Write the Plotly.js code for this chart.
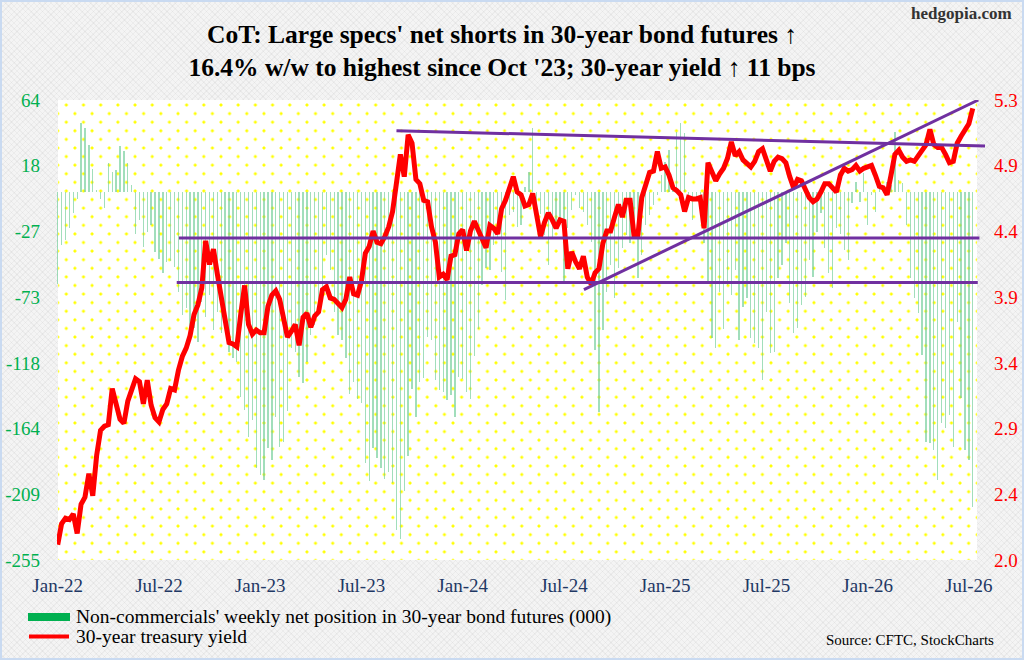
<!DOCTYPE html>
<html><head><meta charset="utf-8">
<script src="https://cdn.plot.ly/plotly-3.0.1.min.js"></script>
<style>
html,body{margin:0;padding:0;background:#fff;}
#wrap{position:relative;width:1024px;height:660px;overflow:hidden;background-color:#f4f4f4;
 background-image:repeating-linear-gradient(45deg, rgba(0,0,0,0.035) 0 1px, transparent 1px 4px),repeating-linear-gradient(-45deg, rgba(0,0,0,0.035) 0 1px, transparent 1px 4px);}
#dots{position:absolute;left:58px;top:100px;width:919px;height:460px;background-color:#fff;
 background-image:radial-gradient(circle, #ffff00 0, #ffff00 1.2px, rgba(255,255,0,0) 1.8px),radial-gradient(circle, #ffff00 0, #ffff00 1.2px, rgba(255,255,0,0) 1.8px);
 background-size:17.2px 17.2px,17.2px 17.2px;background-position:-0.3px -3.6px,8.3px 5px;}
#chart{position:absolute;left:0;top:0;width:1024px;height:660px;}
#frame{position:absolute;left:0;top:0;width:1024px;height:660px;box-sizing:border-box;border:2px solid #c9daf1;pointer-events:none;}
</style></head>
<body><div id="wrap"><div id="dots"></div><div id="chart"></div><div id="frame"></div></div>
<script>
// ---- data (weekly, starting first CoT week of Jan 2022) ----
const firstWeek = '2022-01-04';
const netPos = [-63.9,-36.6,-33,-24.5,-14.6,-4.4,47.8,44.8,32.8,16.1,
1.6,-4.7,-10.7,20,13.8,15.5,32.3,28.6,20,5,
-29.2,-19.2,-37.7,-27.3,-22.7,-41.2,-46.3,-56.2,-48.1,-47.7,
-51.6,-68.9,-85.1,-80.5,-97.8,-93.9,-103.6,-75.9,-86.3,-71.3,
-95.5,-82.8,-97.8,-92.1,-110.6,-115.2,-117.5,-141.8,-151,-169.5,
-158,-191.5,-196.1,-199.6,-177.6,-185.7,-155.6,-176.4,-173,-152,
-108,-110.5,-128,-132.5,-117.5,-99,-92,-85.1,-71.3,-43.5,
-53.9,-82.8,-99,-102.5,-115.2,-139.9,-131.3,-143.6,-145.9,-187.5,
-200,-177.1,-184.5,-191.4,-199,-193.7,-201.8,-234.2,-240.7,-206.9,
-182.9,-136.7,-155.6,-131.3,-129,-100.1,-102.4,-130.2,-137.1,-138.3,
-144,-140.6,-156,-127.9,-129.7,-138.3,-143.6,-113.5,-95,-64.3,
-52.8,-53.9,-36.6,-31.9,-55,-74.7,-15.8,-13.5,-23.9,-22.7,
3.9,14.3,44.3,-12,-15,-29.6,-50.4,-32,-24,-18,
-62,-25,-12.3,-2,-11,-13.5,-22.7,-34.3,-109.4,-152.2,
-95.5,-68.9,-50.4,-73.6,-52.8,-38.9,-29.6,-35.4,-22.7,-59.7,
-43.5,-22.7,-15.8,-8.8,-1.9,12,21.2,29.3,5,42,
48,41,-3,-19,-6,-10,-35,-62,-101,-108,
-68.9,-95,-64.3,-71.3,-53.9,-102.5,-79.3,-73.6,-101.3,-104.8,
-108.2,-130.2,-82.8,-111.7,-110.6,-59.7,-50.4,-35.4,-77,-97.8,
-94.4,-78.2,-72.4,-47,-58.5,-27.3,-14.6,-38.9,-56.2,-66.6,
-25,-29.2,-40,-47,-7.7,7.4,-6.5,13.2,-22.7,-2,
-13.5,2.7,-0.5,7,5,42,8.5,6.2,-22.7,-59.7,
-73.6,-83.9,-112.9,-173,-174.1,-178.8,-199.6,-160.3,-163.7,-154.5,
-176.4,-89.7,-142.9,-178.8,-185.7,-218.1];
const yield30 = [2.11,2.26,2.30,2.29,2.33,2.19,2.40,2.45,2.62,2.46,
2.75,2.93,2.96,2.97,3.23,3.11,3.01,2.98,3.14,3.22,
3.30,3.28,3.12,3.29,3.11,3.02,2.99,3.08,3.12,3.23,
3.22,3.36,3.46,3.52,3.61,3.76,3.83,3.95,4.29,4.12,
4.23,4.05,3.87,3.71,3.56,3.55,3.53,3.76,3.97,3.69,
3.62,3.65,3.63,3.63,3.82,3.90,3.93,3.87,3.71,3.60,
3.64,3.69,3.54,3.74,3.77,3.67,3.75,3.78,3.94,3.96,
3.88,3.87,3.84,3.81,3.87,4.03,3.91,3.90,4.00,4.20,
4.25,4.36,4.28,4.27,4.32,4.39,4.50,4.69,4.91,4.75,
5.05,4.99,4.73,4.70,4.58,4.57,4.39,4.28,4.03,4.05,
4.01,4.18,4.19,4.34,4.37,4.22,4.36,4.43,4.37,4.30,
4.24,4.40,4.38,4.34,4.52,4.58,4.67,4.75,4.64,4.62,
4.54,4.55,4.63,4.48,4.32,4.42,4.49,4.44,4.38,4.44,
4.43,4.09,4.21,4.14,4.09,4.18,4.03,3.98,4.06,4.09,
4.27,4.36,4.36,4.46,4.55,4.46,4.58,4.58,4.33,4.33,
4.60,4.69,4.78,4.79,4.93,4.81,4.82,4.76,4.67,4.65,
4.62,4.50,4.60,4.59,4.59,4.60,4.38,4.85,4.78,4.72,
4.77,4.81,4.88,5.00,4.90,4.93,4.87,4.84,4.82,4.86,
4.93,4.95,4.86,4.79,4.86,4.89,4.88,4.85,4.75,4.67,
4.73,4.72,4.66,4.60,4.57,4.59,4.64,4.70,4.70,4.67,
4.64,4.76,4.81,4.79,4.80,4.83,4.79,4.81,4.82,4.83,
4.76,4.68,4.67,4.62,4.76,4.91,4.94,4.89,4.86,4.87,
4.86,4.90,4.93,4.98,5.09,4.98,4.96,4.96,4.91,4.85,
4.86,4.99,5.04,5.08,5.13,5.24];
const xTickLabels = ['Jan-22','Jul-22','Jan-23','Jul-23','Jan-24','Jul-24','Jan-25','Jul-25','Jan-26','Jul-26'];
const leftTickText = ['-255','-209','-164','-118','-73','-27','18','64'];
const rightTickText = ['2.0','2.4','2.9','3.4','3.9','4.4','4.9','5.3'];
// hand-drawn trend lines (dates, yield)
const flatHighX = ['2022-08-10','2026-07-19'], flatHighY = [4.31, 4.31];
const flatLowX  = ['2022-08-06','2026-07-16'], flatLowY  = [3.99, 3.99];
const downX = ['2023-09-05','2026-07-29'], downY = [5.08, 4.97];
const upX   = ['2024-08-07','2026-07-17'], upY   = [3.94, 5.30];
const barName = "Non-commercials' weekly net position in 30-year bond futures (000)";
const lineName = '30-year treasury yield';

// ---- build ----
const DAY = 86400000, WEEK = 7*DAY;
const t0 = Date.parse(firstWeek + 'T00:00:00Z');
function fmt(ms){const d=new Date(ms);const p=n=>String(n).padStart(2,'0');
  return d.getUTCFullYear()+'-'+p(d.getUTCMonth()+1)+'-'+p(d.getUTCDate())+' '+p(d.getUTCHours())+':'+p(d.getUTCMinutes())+':00';}
const dates = netPos.map((_,i)=>fmt(t0+i*WEEK).slice(0,10));
const xTickVals = xTickLabels.map((_,k)=>dates[k*26]);

const L=57, R=986, T=100, B=560, W=1024, H=660;
const px = x => (x-L)/(R-L), py = y => (B-y)/(B-T);
const serif = 'Liberation Serif, Times New Roman, serif';
const leftMin=-255, leftMax=64, rightMin=2.0, rightMax=5.3;
const leftVals = leftTickText.map((_,k)=>leftMin+(leftMax-leftMin)*k/7);
const rightVals = rightTickText.map((_,k)=>rightMin+(rightMax-rightMin)*k/7);

const purple = {color:'#7030a0', width:3};
const traces = [
 {type:'bar', x:dates, y:netPos, yaxis:'y', width:0.34*WEEK, marker:{color:'rgba(110,205,150,0.65)', line:{width:0}}, name:barName, showlegend:false},
 {type:'scatter', mode:'lines', x:dates, y:yield30, yaxis:'y2', line:{color:'#ff0000', width:5}, name:lineName, showlegend:false},
 {type:'scatter', mode:'lines', x:flatHighX, y:flatHighY, yaxis:'y2', line:purple, showlegend:false},
 {type:'scatter', mode:'lines', x:flatLowX, y:flatLowY, yaxis:'y2', line:purple, showlegend:false},
 {type:'scatter', mode:'lines', x:downX, y:downY, yaxis:'y2', line:purple, showlegend:false},
 {type:'scatter', mode:'lines', x:upX, y:upY, yaxis:'y2', line:purple, showlegend:false}
];
const layout = {
 width:W, height:H, margin:{l:L, r:W-R, t:T, b:H-B, pad:0},
 paper_bgcolor:'rgba(0,0,0,0)', plot_bgcolor:'rgba(0,0,0,0)',
 showlegend:false, bargap:0,
 title:{text:"CoT: Large specs' net shorts in 30-year bond futures ↑<br>16.4% w/w to highest since Oct '23; 30-year yield ↑ 11 bps",
   font:{family:serif, size:25.5, color:'#000', weight:'bold'}, x:502/W, xanchor:'center', y:1-43/H, yanchor:'middle'},
 xaxis:{type:'date', range:[fmt(t0-0.18*WEEK), fmt(t0+238.4*WEEK)], tickmode:'array', tickvals:xTickVals, ticktext:xTickLabels,
   tickfont:{family:serif, size:19, color:'#1f3864'}, showgrid:false, zeroline:false, showline:false, ticks:'', ticklabelstandoff:12},
 yaxis:{range:[leftMin,leftMax], tickmode:'array', tickvals:leftVals, ticktext:leftTickText,
   tickfont:{family:serif, size:19, color:'#00b050'}, showgrid:false, zeroline:false, showline:false, ticks:'', ticklabelstandoff:16},
 yaxis2:{range:[rightMin,rightMax], overlaying:'y', side:'right', tickmode:'array', tickvals:rightVals, ticktext:rightTickText,
   tickfont:{family:serif, size:19, color:'#ff0000'}, showgrid:false, zeroline:false, showline:false, ticks:'', ticklabelstandoff:7},
 shapes:[
   {type:'rect', xref:'paper', yref:'paper', x0:px(28), x1:px(70), y0:py(621), y1:py(613), fillcolor:'#00b050', line:{width:0}},
   {type:'line', xref:'paper', yref:'paper', x0:px(29), x1:px(69), y0:py(636.5), y1:py(636.5), line:{color:'#ff0000', width:4}}
 ],
 annotations:[
   {xref:'paper', yref:'paper', x:px(74), y:py(617), xanchor:'left', yanchor:'middle', showarrow:false, text:barName, font:{family:serif, size:19.5, color:'#000'}},
   {xref:'paper', yref:'paper', x:px(74), y:py(636), xanchor:'left', yanchor:'middle', showarrow:false, text:lineName, font:{family:serif, size:19.5, color:'#000'}},
   {xref:'paper', yref:'paper', x:px(996), y:py(640), xanchor:'right', yanchor:'middle', showarrow:false, text:'Source: CFTC, StockCharts', font:{family:serif, size:15, color:'#000'}},
   {xref:'paper', yref:'paper', x:px(1014), y:py(13), xanchor:'right', yanchor:'middle', showarrow:false, text:'<b>hedgopia.com</b>', font:{family:serif, size:17, color:'#333'}}
 ]
};
Plotly.newPlot('chart', traces, layout, {staticPlot:true, displayModeBar:false});
</script></body></html>
